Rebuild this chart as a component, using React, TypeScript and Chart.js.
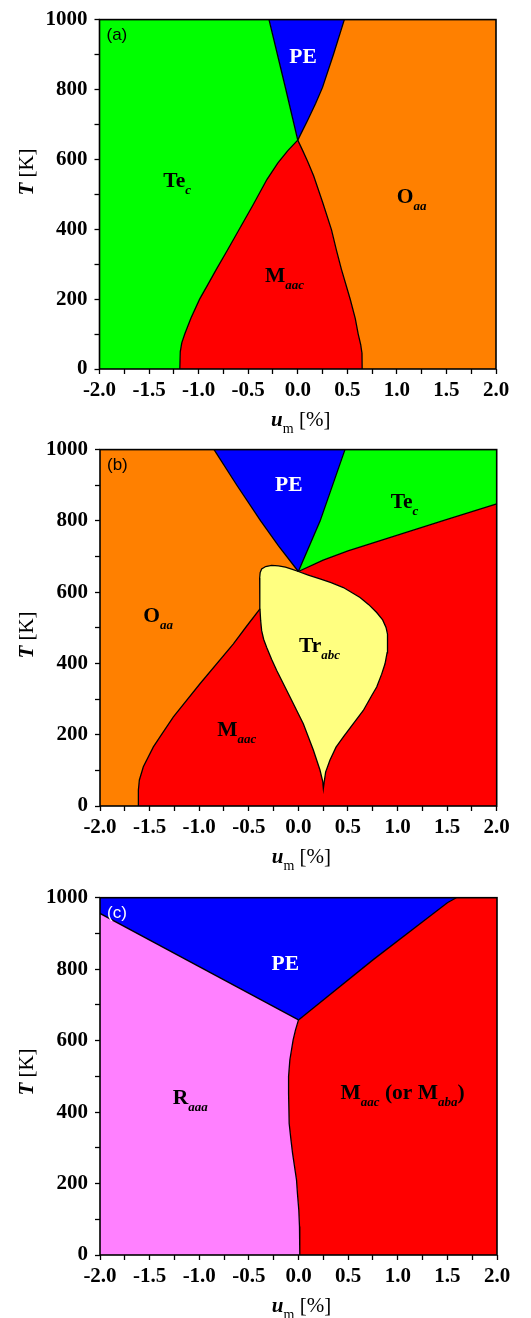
import React, { useEffect, useRef } from 'react';
import { Chart, registerables } from 'chart.js';

Chart.register(...registerables);

type P = [number, number];
type Seg = [string, string];

// ---------- tick values ----------
const xLabelTicks = [-2, -1.5, -1, -0.5, 0, 0.5, 1, 1.5, 2];
const xMinorTicks = [-1.75, -1.25, -0.75, -0.25, 0.25, 0.75, 1.25, 1.75];
const yLabelTicks = [0, 200, 400, 600, 800, 1000];
const yMinorTicks = [100, 300, 500, 700, 900];

// ---------- colours ----------
const GREEN = '#00ff00';
const BLUE = '#0000ff';
const ORANGE = '#ff8000';
const RED = '#ff0000';
const YELLOW = '#ffff80';
const PINK = '#ff80ff';

// ---------- panel (a) boundaries (u_m [%], T [K]) ----------
const aPeLeft: P[] = [[0, 655], [-0.12, 800], [-0.29, 1000]];
const aPeRight: P[] = [[0, 655], [0.1, 712], [0.18, 760], [0.25, 806], [0.36, 900], [0.47, 1000]];
const aTecM: P[] = [[0, 655], [-0.1, 625], [-0.2, 590], [-0.31, 543], [-0.45, 470], [-0.59, 400], [-0.71, 340], [-0.82, 286], [-0.91, 240], [-0.99, 200], [-1.077, 146], [-1.14, 100], [-1.17, 75], [-1.185, 50], [-1.19, 0]];
const aMO: P[] = [[0, 655], [0.05, 625], [0.1, 594], [0.16, 553], [0.25, 478], [0.34, 399], [0.39, 340], [0.44, 286], [0.53, 199], [0.58, 145], [0.61, 100], [0.635, 70], [0.648, 45], [0.65, 0]];

// ---------- panel (b) boundaries ----------
const bPeLeft: P[] = [[0, 658], [-0.2, 730], [-0.38, 800], [-0.62, 900], [-0.85, 1000]];
const bPeRight: P[] = [[0, 658], [0.22, 800], [0.47, 1000]];
const bTeM: P[] = [[0, 658], [0.25, 690], [0.5, 716], [1.0, 760], [1.5, 804], [2, 848]];
const bTrTop: P[] = [[0, 658], [-0.06, 664], [-0.13, 670], [-0.2, 674], [-0.27, 675], [-0.33, 672], [-0.37, 665], [-0.385, 655], [-0.39, 640], [-0.39, 600], [-0.387, 553]];
const bTrLoop: P[] = [[-0.387, 553], [-0.38, 520], [-0.37, 492], [-0.35, 468], [-0.319, 445], [-0.27, 412], [-0.218, 380], [-0.084, 306], [0.05, 231], [0.151, 157], [0.218, 101], [0.245, 70], [0.252, 49], [0.262, 70], [0.275, 95], [0.319, 129], [0.38, 165], [0.454, 194], [0.655, 268], [0.74, 310], [0.79, 334], [0.84, 370], [0.874, 399], [0.895, 430], [0.901, 455], [0.897, 482], [0.884, 501], [0.85, 522], [0.79, 543], [0.71, 565], [0.622, 585], [0.454, 613], [0.33, 627], [0.218, 637], [0.1, 648], [0, 658]];
const bOM: P[] = [[-0.387, 553], [-0.52, 505], [-0.655, 455], [-0.992, 343], [-1.26, 250], [-1.38, 200], [-1.462, 166], [-1.563, 110], [-1.603, 73], [-1.613, 45], [-1.613, 0]];

// ---------- panel (c) boundaries ----------
const cPeLeft: P[] = [[0, 658], [-2, 956]];
const cPeRight: P[] = [[0, 658], [0.75, 826], [1.5, 986], [1.59, 1000]];
const cRM: P[] = [[0, 658], [-0.03, 630], [-0.054, 602], [-0.087, 546], [-0.1, 500], [-0.1, 452], [-0.094, 368], [-0.075, 320], [-0.06, 285], [-0.02, 210], [-0.01, 170], [0.003, 126], [0.01, 80], [0.013, 0]];

// ---------- region labels ----------
const aLabels = [
  { x: -0.085, y: 877, color: '#ffffff', segs: [['PE', 'm']] as Seg[] },
  { x: -1.356, y: 520, color: '#000000', segs: [['Te', 'm'], ['c', 's']] as Seg[] },
  { x: 0.999, y: 475, color: '#000000', segs: [['O', 'm'], ['aa', 's']] as Seg[] },
  { x: -0.33, y: 250, color: '#000000', segs: [['M', 'm'], ['aac', 's']] as Seg[] },
];
const bLabels = [
  { x: -0.235, y: 883, color: '#ffffff', segs: [['PE', 'm']] as Seg[] },
  { x: 0.931, y: 835, color: '#000000', segs: [['Te', 'm'], ['c', 's']] as Seg[] },
  { x: -1.563, y: 517, color: '#000000', segs: [['O', 'm'], ['aa', 's']] as Seg[] },
  { x: 0.007, y: 431, color: '#000000', segs: [['Tr', 'm'], ['abc', 's']] as Seg[] },
  { x: -0.817, y: 196, color: '#000000', segs: [['M', 'm'], ['aac', 's']] as Seg[] },
];
const cLabels = [
  { x: -0.272, y: 799, color: '#ffffff', segs: [['PE', 'm']] as Seg[] },
  { x: -1.268, y: 424, color: '#000000', segs: [['R', 'm'], ['aaa', 's']] as Seg[] },
  { x: 0.423, y: 436, color: '#000000', segs: [['M', 'm'], ['aac', 's'], [' (or M', 'm'], ['aba', 's'], [')', 'm']] as Seg[] },
];

const rev = (a: P[]) => [...a].reverse();
const join = (...parts: P[][]): P[] => {
  const out: P[] = [];
  for (const part of parts) {
    for (const p of part) {
      const last = out[out.length - 1];
      if (!last || last[0] !== p[0] || last[1] !== p[1]) out.push(p);
    }
  }
  return out;
};

const SERIF = '"Liberation Serif", "Times New Roman", serif';
const SANS = '"Liberation Sans", Arial, sans-serif';

const panels = [
  {
    top: 0, height: 445,
    area: { left: 99.5, right: 496, top: 11, bottom: 369 },
    yTitleY: 172, tag: '(a)', tagColor: '#000000',
    polygons: [
      { color: GREEN, pts: join([[-2, 0], [-2, 1000]], rev(aPeLeft), aTecM) },
      { color: BLUE, pts: join(aPeLeft, rev(aPeRight)) },
      { color: ORANGE, pts: join(aPeRight, [[2, 1000], [2, 0]], rev(aMO)) },
      { color: RED, pts: join(aTecM, rev(aMO)) },
    ],
    lines: [aPeLeft, aPeRight, aTecM, aMO],
    lineWidth: 1.3,
    labels: aLabels,
  },
  {
    top: 430, height: 448,
    area: { left: 100, right: 496.7, top: 18.3, bottom: 376 },
    yTitleY: 205, tag: '(b)', tagColor: '#000000',
    polygons: [
      { color: BLUE, pts: join(bPeLeft, rev(bPeRight)) },
      { color: GREEN, pts: join(bPeRight, [[2, 1000]], rev(bTeM)) },
      { color: ORANGE, pts: join([[-2, 0], [-2, 1000]], rev(bPeLeft), bTrTop, bOM) },
      { color: YELLOW, pts: join(bTrTop, bTrLoop) },
      { color: RED, pts: join(rev(bOM), bTrLoop, bTeM, [[2, 0]]) },
    ],
    lines: [bPeLeft, bPeRight, bTeM, bTrTop, bTrLoop, bOM],
    lineWidth: 1.3,
    labels: bLabels,
  },
  {
    top: 860, height: 458,
    area: { left: 100, right: 497, top: 37.7, bottom: 395 },
    yTitleY: 212, tag: '(c)', tagColor: '#ffffff',
    polygons: [
      { color: BLUE, pts: join(cPeLeft, [[-2, 1000]], rev(cPeRight)) },
      { color: PINK, pts: join([[-2, 0]], rev(cPeLeft), cRM) },
      { color: RED, pts: join(cPeRight, [[2, 1000], [2, 0]], rev(cRM)) },
    ],
    lines: [cPeLeft, cPeRight, cRM],
    lineWidth: 1.3,
    labels: cLabels,
  },
];

type Panel = typeof panels[number];

function drawSegs(ctx: CanvasRenderingContext2D, x: number, y: number, segs: Seg[], fonts: Record<string, string>, offs: Record<string, number>) {
  let cx = x;
  for (const [t, k] of segs) {
    ctx.font = fonts[k];
    ctx.fillText(t, cx, y + (offs[k] || 0));
    cx += ctx.measureText(t).width;
  }
  return cx - x;
}

function segsWidth(ctx: CanvasRenderingContext2D, segs: Seg[], fonts: Record<string, string>) {
  let w = 0;
  for (const [t, k] of segs) {
    ctx.font = fonts[k];
    w += ctx.measureText(t).width;
  }
  return w;
}

function makePlugin(p: Panel) {
  return {
    id: 'decor',
    afterDraw(chart: any) {
      const ctx: CanvasRenderingContext2D = chart.ctx;
      const { left, right, top, bottom } = chart.chartArea;
      const xs = chart.scales.x;
      const ys = chart.scales.y;
      ctx.save();
      ctx.textAlign = 'left';
      ctx.textBaseline = 'alphabetic';
      // region labels
      const regionFonts = { m: `bold 21.5px ${SERIF}`, s: `italic bold 13px ${SERIF}` };
      for (const l of p.labels) {
        ctx.fillStyle = l.color;
        drawSegs(ctx, xs.getPixelForValue(l.x), ys.getPixelForValue(l.y), l.segs, regionFonts, { s: 7 });
      }
      // panel tag
      ctx.font = `17px ${SANS}`;
      ctx.fillStyle = p.tagColor;
      ctx.textBaseline = 'middle';
      ctx.fillText(p.tag, left + 7, top + 16);
      // frame
      ctx.strokeStyle = '#000';
      ctx.lineWidth = 1.6;
      ctx.strokeRect(left, top, right - left, bottom - top);
      // axis titles
      ctx.fillStyle = '#000';
      ctx.textBaseline = 'alphabetic';
      const titleFonts = { bi: `italic bold 21px ${SERIF}`, r: `21px ${SERIF}`, sub: `14px ${SERIF}` };
      const xSegs: Seg[] = [['u', 'bi'], ['m', 'sub'], [' [%]', 'r']];
      const xw = segsWidth(ctx, xSegs, titleFonts);
      drawSegs(ctx, (left + right) / 2 + 3 - xw / 2, bottom + 57, xSegs, titleFonts, { sub: 7 });
      const ySegs: Seg[] = [['T', 'bi'], [' [K]', 'r']];
      const yw = segsWidth(ctx, ySegs, titleFonts);
      ctx.translate(33, p.yTitleY);
      ctx.rotate(-Math.PI / 2);
      drawSegs(ctx, -yw / 2, 0, ySegs, titleFonts, {});
      ctx.restore();
    },
  };
}

function PanelChart({ p }: { p: Panel }) {
  const ref = useRef<HTMLCanvasElement>(null);
  useEffect(() => {
    const tickFont = { family: SERIF, size: 21, weight: 'bold' as const };
    const datasets: any[] = [
      ...p.polygons.map((poly) => ({
        data: poly.pts.map(([x, y]) => ({ x, y })),
        backgroundColor: poly.color,
        borderColor: poly.color,
        borderWidth: 0,
        fill: 'shape',
        pointRadius: 0,
        tension: 0,
        clip: false,
        order: 2,
      })),
      ...p.lines.map((ln) => ({
        data: ln.map(([x, y]) => ({ x, y })),
        borderColor: '#000000',
        backgroundColor: '#000000',
        borderWidth: p.lineWidth,
        fill: false,
        pointRadius: 0,
        tension: 0,
        order: 1,
      })),
    ];
    const chart = new Chart(ref.current as HTMLCanvasElement, {
      type: 'line',
      data: { datasets },
      options: {
        animation: false,
        responsive: false,
        maintainAspectRatio: false,
        events: [],
        layout: { padding: { top: p.area.top, right: 531 - p.area.right, left: 0, bottom: 0 } },
        plugins: { legend: { display: false }, tooltip: { enabled: false }, title: { display: false } },
        scales: {
          x: {
            type: 'linear',
            min: -2,
            max: 2,
            afterBuildTicks: (s: any) => {
              s.ticks = [...xLabelTicks, ...xMinorTicks].sort((a, b) => a - b).map((v) => ({ value: v }));
            },
            afterFit: (s: any) => {
              s.height = p.height - p.area.bottom;
            },
            ticks: {
              autoSkip: false,
              maxRotation: 0,
              padding: 4,
              color: '#000',
              font: tickFont,
              callback: (v: any) => (xLabelTicks.includes(Number(v)) ? Number(v).toFixed(1) : ''),
            },
            grid: { drawOnChartArea: false, drawTicks: true, tickLength: 5, tickColor: '#000', tickWidth: 1.3 },
            border: { display: false },
          },
          y: {
            type: 'linear',
            min: 0,
            max: 1000,
            afterBuildTicks: (s: any) => {
              s.ticks = [...yLabelTicks, ...yMinorTicks].sort((a, b) => a - b).map((v) => ({ value: v }));
            },
            afterFit: (s: any) => {
              s.width = p.area.left;
            },
            ticks: {
              autoSkip: false,
              padding: 7,
              color: '#000',
              font: tickFont,
              callback: (v: any) => (yLabelTicks.includes(Number(v)) ? String(v) : ''),
            },
            grid: { drawOnChartArea: false, drawTicks: true, tickLength: 5, tickColor: '#000', tickWidth: 1.3 },
            border: { display: false },
          },
        },
      } as any,
      plugins: [makePlugin(p)],
    });
    return () => chart.destroy();
  }, [p]);
  return (
    <canvas
      ref={ref}
      width={531}
      height={p.height}
      style={{ position: 'absolute', left: 0, top: p.top, width: 531, height: p.height, display: 'block' }}
    />
  );
}

export default function App() {
  return (
    <div style={{ position: 'absolute', left: 0, top: 0, width: 531, height: 1318, background: '#ffffff', overflow: 'hidden' }}>
      {panels.map((p, i) => (
        <PanelChart key={i} p={p} />
      ))}
    </div>
  );
}
